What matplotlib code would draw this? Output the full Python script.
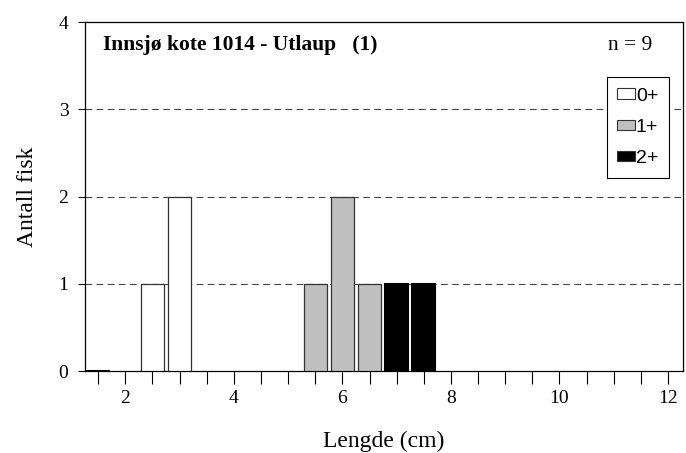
import numpy as np
import matplotlib
import matplotlib.pyplot as plt
from matplotlib.patches import Patch

matplotlib.use('agg')

# lengdeklasser (cm) og antall fisk per aldersgruppe
lengde_0 = [2.5, 3.0]
antall_0 = [1, 2]
lengde_1 = [5.5, 6.0, 6.5]
antall_1 = [1, 2, 1]
lengde_2 = [1.5, 7.0, 7.5]
antall_2 = [0, 1, 1]
aldersgrupper = ['0+', '1+', '2+']
farger = ['white', '#c0c0c0', 'black']
n_fisk = 9
tittel = 'Innsjø kote 1014 - Utlaup   (1)'

serif = ['Liberation Serif', 'DejaVu Serif']
sans = ['Liberation Sans', 'DejaVu Sans']

fig = plt.figure(figsize=(6.86, 4.53), dpi=100)
ax = fig.add_axes([0.124, 0.181, 0.872, 0.770])

b = 0.43
ax.bar(lengde_0, antall_0, width=b, color=farger[0], edgecolor='#333333', linewidth=0.9, zorder=3)
ax.bar(lengde_1, antall_1, width=b, color=farger[1], edgecolor='#333333', linewidth=0.9, zorder=3)
ax.bar(lengde_2, antall_2, width=b, color=farger[2], edgecolor='black', linewidth=1.5, zorder=3)

for y in [1, 2, 3]:
    ax.axhline(y, color='#444444', linestyle=(0, (6, 4)), linewidth=0.8, zorder=1)

ax.set_xlim(1.26, 12.28)
ax.set_ylim(0, 4)
ax.set_xticks([2, 4, 6, 8, 10, 12])
ax.set_xticks(np.arange(1.5, 12.01, 0.5), minor=True)
ax.set_yticks([0, 1, 2, 3, 4])
ax.tick_params(axis='x', which='both', direction='out', length=9, width=0.8, pad=5)
ax.tick_params(axis='y', direction='out', length=5, width=0.8, pad=7)
for lab in ax.get_xticklabels() + ax.get_yticklabels():
    lab.set_family(serif)
    lab.set_fontsize(14)
for s in ax.spines.values():
    s.set_linewidth(0.9)

ax.set_xlabel('Lengde (cm)', family=serif, fontsize=17, labelpad=17)
ax.set_ylabel('Antall fisk', family=serif, fontsize=17, labelpad=15)

ax.text(0.03, 0.934, tittel, transform=ax.transAxes, family=serif, fontsize=15.5,
        fontweight='bold', va='center')
ax.text(0.875, 0.934, f'n = {n_fisk}', transform=ax.transAxes, family=serif, fontsize=15.5,
        va='center')

handles = [Patch(facecolor=f, edgecolor='#333333', linewidth=0.8) for f in farger]
leg = ax.legend(handles, aldersgrupper, loc='upper right', bbox_to_anchor=(0.976, 0.843),
                prop={'family': sans, 'size': 14}, frameon=True, fancybox=False,
                edgecolor='black', framealpha=1, borderpad=0.55, handlelength=0.9,
                handleheight=0.46, handletextpad=0.05, labelspacing=0.73, borderaxespad=0)
leg.get_frame().set_linewidth(0.8)
leg._legend_box.sep = 0
leg.set_zorder(5)

fig.savefig('out.png', dpi=100)
